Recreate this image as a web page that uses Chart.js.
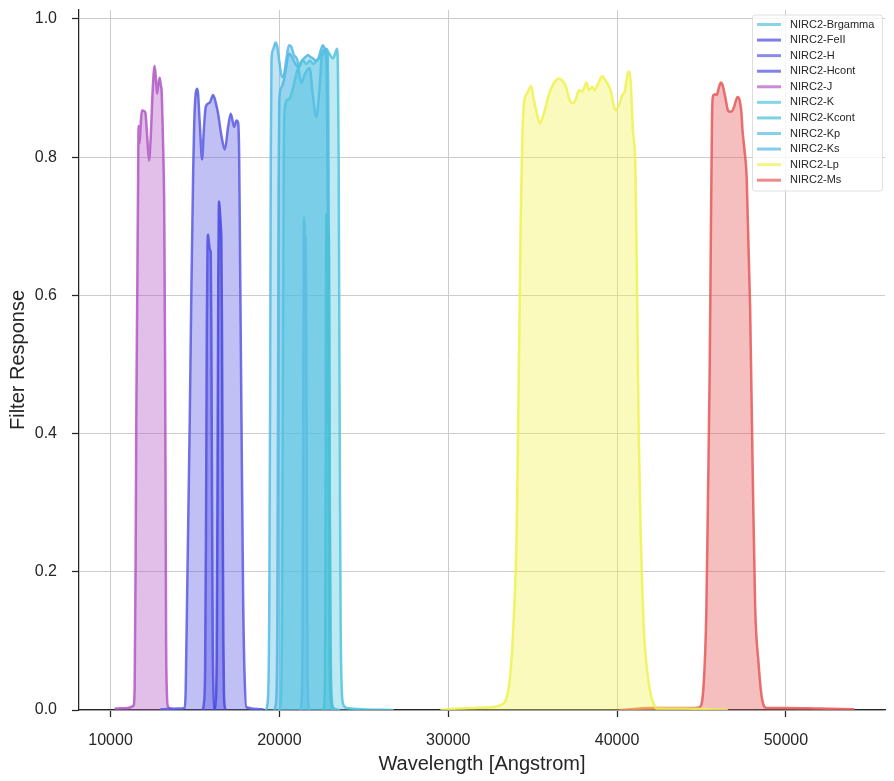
<!DOCTYPE html>
<html><head><meta charset="utf-8">
<script src="https://cdn.jsdelivr.net/npm/chart.js@4.4.1/dist/chart.umd.min.js"></script>
<style>html,body{margin:0;padding:0;background:#fff;} #wrap{width:894px;height:781px;}</style>
</head><body><div id="wrap"><canvas id="c" width="894" height="781"></canvas></div>
<script>
// ---- tick labels / axis ----
const xTickValues = [10000, 20000, 30000, 40000, 50000];
const yTickValues = [0.0, 0.2, 0.4, 0.6, 0.8, 1.0];
const filterNames = ['NIRC2-Brgamma','NIRC2-FeII','NIRC2-H','NIRC2-Hcont','NIRC2-J','NIRC2-K','NIRC2-Kcont','NIRC2-Kp','NIRC2-Ks','NIRC2-Lp','NIRC2-Ms'];

// ---- series (wavelength [Angstrom], response) ----
const brgWave = [21250,21330,21380,21420,21445,21465,21510,21570,21600,21630,21660,21710,21800];
const brgResp = [0,0.02,0.15,0.5,0.68,0.713,0.69,0.655,0.5,0.25,0.07,0.01,0];

const feiiWave = [16150,16220,16290,16340,16380,16410,16430,16480,16530,16560,16600,16640,16680,16720,16800];
const feiiResp = [0,0.01,0.08,0.35,0.62,0.72,0.736,0.72,0.7,0.68,0.55,0.3,0.1,0.02,0];

const hWave = [13000,14000,14391,14450,14530,14610,14690,14787,14886,14985,15143,15281,15420,15519,15637,15875,16073,16230,16370,16567,16765,16963,17120,17318,17457,17556,17615,17655,17754,17853,17950,18050,19000];
const hResp = [0.001,0.002,0.003,0.03,0.16,0.29,0.42,0.61,0.77,0.87,0.899,0.85,0.797,0.837,0.873,0.879,0.89,0.879,0.863,0.831,0.811,0.844,0.863,0.844,0.853,0.85,0.805,0.70,0.42,0.16,0.04,0.004,0.001];

const hcontWave = [15450,15530,15600,15650,15700,15740,15777,15830,15900,15935,15970,16010,16050,16100,16170];
const hcontResp = [0,0.01,0.06,0.25,0.55,0.67,0.688,0.675,0.665,0.663,0.55,0.3,0.1,0.02,0];

const jWave = [10300,11000,11350,11425,11484,11523,11583,11622,11661,11720,11790,11860,11960,12057,12170,12275,12380,12500,12610,12680,12750,12830,12908,12970,13026,13080,13130,13180,13230,13260,13290,13330,13400,13600];
const jResp = [0.002,0.003,0.006,0.03,0.22,0.42,0.61,0.74,0.845,0.82,0.85,0.868,0.867,0.865,0.83,0.795,0.83,0.9,0.932,0.915,0.892,0.905,0.915,0.905,0.895,0.85,0.8,0.72,0.5,0.3,0.1,0.03,0.005,0.002];

const kWave = [20000,20100,20160,20210,20260,20320,20465,20603,20750,20900,21050,21200,21400,21600,21800,22000,22200,22400,22600,22779,22950,23175,23300,23412,23470,23510,23550,23590,23630,23680,23760,24000,26700];
const kResp = [0,0.02,0.15,0.5,0.8,0.87,0.883,0.885,0.895,0.91,0.925,0.935,0.94,0.935,0.94,0.935,0.94,0.945,0.95,0.957,0.95,0.943,0.95,0.957,0.92,0.8,0.55,0.3,0.12,0.04,0.01,0.003,0];

const kcontWave = [22600,22680,22720,22750,22770,22790,22850,22930,22960,22990,23020,23070,23150];
const kcontResp = [0,0.02,0.15,0.5,0.69,0.717,0.7,0.685,0.5,0.25,0.07,0.01,0];

const kpWave = [19200,19330,19400,19450,19490,19530,19614,19772,19871,20010,20148,20267,20405,20563,20702,20860,21058,21295,21500,21790,21988,22186,22383,22500,22650,22780,22830,22870,22910,22960,23020,23150,23500];
const kpResp = [0,0.02,0.15,0.45,0.8,0.94,0.955,0.966,0.96,0.936,0.916,0.919,0.941,0.962,0.96,0.948,0.941,0.907,0.92,0.929,0.888,0.858,0.902,0.945,0.955,0.94,0.85,0.6,0.3,0.1,0.02,0.003,0];

const ksWave = [19700,19820,19880,19920,19950,19990,20100,20250,20400,20563,20750,20950,21150,21350,21550,21691,21850,21988,22150,22284,22450,22581,22700,22850,22900,22940,22980,23030,23090,23200,23500];
const ksResp = [0,0.02,0.15,0.45,0.75,0.88,0.9,0.91,0.93,0.95,0.945,0.935,0.93,0.94,0.945,0.948,0.945,0.943,0.94,0.941,0.955,0.962,0.957,0.95,0.85,0.6,0.3,0.1,0.02,0.003,0];

const lpWave = [29600,30500,31500,32500,33090,33590,33895,34055,34190,34290,34390,34495,34670,34910,35065,35240,35420,35660,35955,36250,36550,36750,36945,37240,37400,37540,37735,37935,38190,38330,38530,38665,38865,39120,39320,39615,39910,40110,40310,40450,40665,40800,40860,40940,41090,41190,41285,41385,41585,41880,42185,42380,44000,46500];
const lpResp = [0,0.002,0.003,0.004,0.007,0.034,0.14,0.26,0.51,0.708,0.831,0.88,0.892,0.903,0.883,0.865,0.849,0.863,0.89,0.907,0.914,0.911,0.904,0.88,0.878,0.883,0.897,0.895,0.908,0.897,0.902,0.897,0.906,0.917,0.911,0.897,0.868,0.875,0.89,0.895,0.924,0.912,0.883,0.839,0.782,0.596,0.398,0.274,0.119,0.039,0.008,0.002,0.002,0];

const msWave = [40200,42000,44000,44600,44885,45125,45285,45385,45485,45560,45620,45660,45720,45790,45905,46020,46145,46245,46340,46440,46540,46640,46780,46935,47040,47135,47255,47370,47430,47550,47680,47880,48040,48180,48380,48575,48875,50000,52000,54000];
const msResp = [0,0.003,0.003,0.003,0.004,0.036,0.14,0.31,0.49,0.7,0.85,0.885,0.89,0.891,0.89,0.9,0.908,0.905,0.895,0.883,0.87,0.866,0.866,0.873,0.882,0.887,0.883,0.863,0.839,0.81,0.769,0.584,0.336,0.15,0.068,0.018,0.003,0.003,0.002,0.001];

const waves = [brgWave, feiiWave, hWave, hcontWave, jWave, kWave, kcontWave, kpWave, ksWave, lpWave, msWave];
const resps = [brgResp, feiiResp, hResp, hcontResp, jResp, kResp, kcontResp, kpResp, ksResp, lpResp, msResp];
const baseColors = [
  [88,190,225],[72,72,222],[90,90,228],[78,78,224],[178,88,196],
  [80,196,222],[72,192,208],[86,186,230],[80,182,226],[238,242,80],[230,88,88]
];
const rgba = (c,a) => `rgba(${c[0]},${c[1]},${c[2]},${a})`;

const FONT = '"Liberation Sans", Arial, Helvetica, sans-serif';
const TXT = '#262626';

const datasets = filterNames.map((name,i) => ({
  label: name,
  data: waves[i].map((w,k) => ({x:w, y:resps[i][k]})),
  borderColor: rgba(baseColors[i],0.85),
  backgroundColor: rgba(baseColors[i],0.38),
  borderWidth: 2.5,
  pointRadius: 0,
  fill: 'origin',
  cubicInterpolationMode: 'monotone',
  borderJoinStyle: 'round',
  borderCapStyle: 'round'
}));

const insideLegend = {
  id: 'insideLegend',
  afterDraw(chart) {
    const ctx = chart.ctx, ca = chart.chartArea;
    const bw = 130, bh = 176;
    const x0 = ca.right - bw - 2.5, y0 = ca.top + 5;
    ctx.save();
    ctx.beginPath();
    const r = 3;
    ctx.moveTo(x0+r,y0); ctx.lineTo(x0+bw-r,y0); ctx.quadraticCurveTo(x0+bw,y0,x0+bw,y0+r);
    ctx.lineTo(x0+bw,y0+bh-r); ctx.quadraticCurveTo(x0+bw,y0+bh,x0+bw-r,y0+bh);
    ctx.lineTo(x0+r,y0+bh); ctx.quadraticCurveTo(x0,y0+bh,x0,y0+bh-r);
    ctx.lineTo(x0,y0+r); ctx.quadraticCurveTo(x0,y0,x0+r,y0); ctx.closePath();
    ctx.fillStyle = 'rgba(255,255,255,0.8)'; ctx.fill();
    ctx.strokeStyle = 'rgba(215,215,215,0.8)'; ctx.lineWidth = 1; ctx.stroke();
    ctx.font = '11px ' + FONT; ctx.textBaseline = 'middle'; ctx.textAlign = 'left';
    chart.data.datasets.forEach((ds,i) => {
      const y = y0 + 9.5 + i*15.57;
      ctx.beginPath(); ctx.moveTo(x0+4.5,y); ctx.lineTo(x0+28.5,y);
      ctx.strokeStyle = rgba(baseColors[i],0.7); ctx.lineWidth = 3; ctx.lineCap = 'butt'; ctx.stroke();
      ctx.fillStyle = TXT; ctx.fillText(ds.label, x0+37.5, y);
    });
    ctx.restore();
  }
};

const zeroPad = s => { s.paddingTop = 0; s.paddingBottom = 0; s.paddingLeft = 0; s.paddingRight = 0; };

new Chart(document.getElementById('c'), {
  type: 'line',
  data: { datasets },
  plugins: [insideLegend],
  options: {
    responsive: false, animation: false, events: [],
    layout: { padding: { top: 10, right: 9, left: 0, bottom: 0 } },
    plugins: { legend: { display: false }, tooltip: { enabled: false } },
    scales: {
      x: {
        type: 'linear', min: 8130, max: 55870,
        afterBuildTicks: s => { s.ticks = xTickValues.map(v => ({value: v})); },
        afterFit: s => { s.height = 71; zeroPad(s); },
        ticks: { callback: v => String(v), font: {family: FONT, size: 16}, color: TXT, padding: 14, maxRotation: 0, autoSkip: false },
        grid: { color: '#cccccc', lineWidth: 1, drawTicks: true, tickLength: 7, tickColor: TXT, tickWidth: 1.25 },
        border: { display: true, color: TXT, width: 1.25 },
        title: { display: true, text: 'Wavelength [Angstrom]', font: {family: FONT, size: 20}, color: TXT, padding: {top: 0, bottom: 5} }
      },
      y: {
        type: 'linear', min: 0, max: 1.013,
        afterBuildTicks: s => { s.ticks = yTickValues.map(v => ({value: v})); },
        afterFit: s => { s.width = 79; zeroPad(s); },
        ticks: { callback: v => Number(v).toFixed(1), font: {family: FONT, size: 16}, color: TXT, padding: 15, autoSkip: false },
        grid: { color: '#cccccc', lineWidth: 1, drawTicks: true, tickLength: 7, tickColor: TXT, tickWidth: 1.25 },
        border: { display: true, color: TXT, width: 1.25 },
        title: { display: true, text: 'Filter Response', font: {family: FONT, size: 20}, color: TXT, padding: {top: 6, bottom: 0} }
      }
    }
  }
});
</script></body></html>
